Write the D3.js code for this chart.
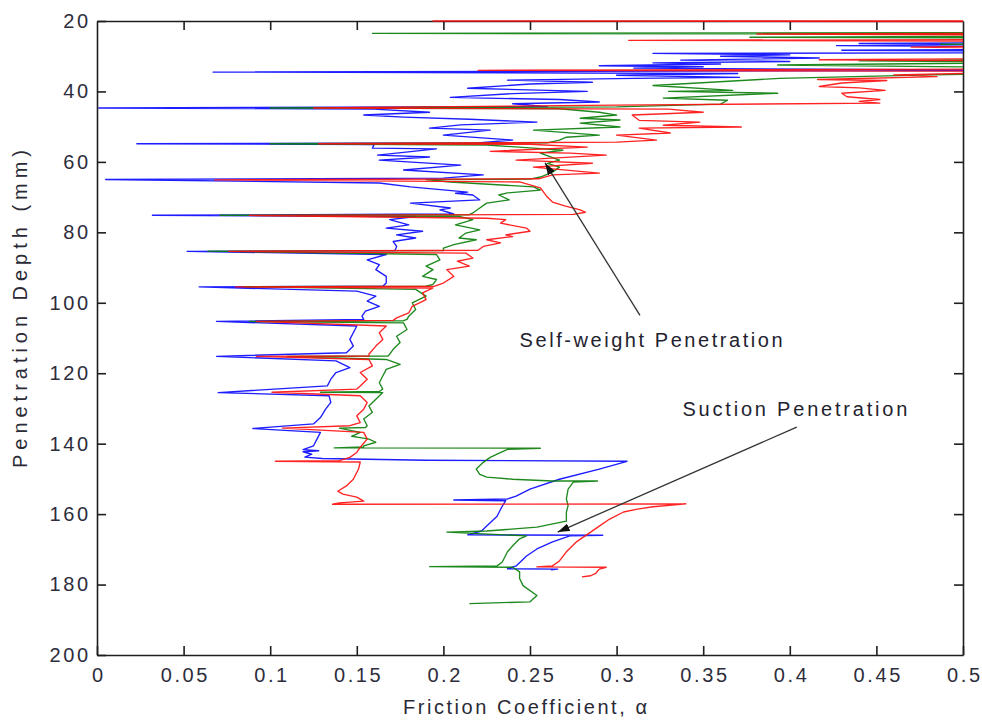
<!DOCTYPE html>
<html>
<head>
<meta charset="utf-8">
<script src="https://cdn.jsdelivr.net/npm/d3@7/dist/d3.min.js"></script>
<style>
  html, body { margin: 0; padding: 0; background: #fff; }
  svg { display: block; font-family: "Liberation Sans", Arial, sans-serif; }
</style>
</head>
<body>
<svg id="chart" width="982" height="721"></svg>
<script>
// ---- axis ticks ----
const xTicks = [0, 0.05, 0.1, 0.15, 0.2, 0.25, 0.3, 0.35, 0.4, 0.45, 0.5];
const xTickLabels = ["0", "0.05", "0.1", "0.15", "0.2", "0.25", "0.3", "0.35", "0.4", "0.45", "0.5"];
const yTicks = [20, 40, 60, 80, 100, 120, 140, 160, 180, 200];

// ---- measured traces: [friction coefficient, penetration depth (mm)] ----
const blueTrace = [
  [0.56, 26.0], [0.44, 26.4], [0.50, 26.7], [0.427, 27.0], [0.56, 27.4],
  [0.56, 28.0], [0.43, 28.3], [0.56, 28.6], [0.56, 29.0], [0.321, 29.2],
  [0.40, 29.6], [0.36, 30.0], [0.417, 30.5], [0.337, 31.1], [0.40, 31.5],
  [0.321, 31.9], [0.36, 32.2], [0.29, 32.7], [0.35, 33.0], [0.31, 33.4],
  [0.56, 34.0], [0.067, 34.5], [0.37, 34.9],
  [0.30, 35.4], [0.371, 36.0], [0.31, 36.3], [0.237, 36.8], [0.286, 37.4],
  [0.25, 37.9], [0.214, 39.1], [0.283, 40.0], [0.24, 40.6], [0.204, 41.7],
  [0.267, 42.3], [0.29, 43.0], [0.24, 43.5], [0.26, 44.3], [0.001, 44.7],
  [0.16, 45.0], [0.192, 45.9], [0.154, 46.7], [0.177, 47.3], [0.215, 47.9],
  [0.254, 48.7], [0.21, 49.5], [0.192, 50.4], [0.227, 51.0], [0.2, 52.4],
  [0.24, 53.8], [0.22, 54.6], [0.023, 54.85],
  [0.16, 55.1], [0.159, 56.1], [0.196, 56.3], [0.162, 58.1], [0.192, 58.6],
  [0.163, 59.5], [0.21, 60.9], [0.177, 62.3], [0.223, 63.7], [0.2, 64.6],
  [0.005, 65.0],
  [0.163, 66.0], [0.181, 67.1], [0.214, 68.6], [0.207, 68.9], [0.217, 69.4],
  [0.221, 70.8], [0.181, 71.7], [0.204, 73.1], [0.198, 73.6], [0.206, 74.8],
  [0.032, 75.15],
  [0.184, 75.5], [0.169, 76.4], [0.18, 77.9], [0.167, 78.8], [0.188, 79.7],
  [0.173, 80.7], [0.184, 81.6], [0.171, 82.6], [0.173, 84.0], [0.172, 85.2],
  [0.052, 85.4],
  [0.167, 86.3], [0.156, 87.8], [0.163, 89.2], [0.161, 90.6], [0.167, 92.5],
  [0.167, 94.4], [0.165, 95.3], [0.059, 95.5],
  [0.15, 96.7], [0.161, 98.1], [0.156, 99.5], [0.163, 101.0], [0.155, 102.4],
  [0.153, 103.8], [0.154, 104.7], [0.069, 105.3],
  [0.15, 106.6], [0.148, 108.5], [0.146, 110.4], [0.148, 112.3], [0.144, 114.2],
  [0.069, 115.2],
  [0.138, 116.5], [0.146, 118.4], [0.138, 119.8], [0.135, 121.7], [0.133, 123.6],
  [0.07, 125.5],
  [0.134, 126.4], [0.135, 128.3], [0.132, 130.2], [0.129, 132.6], [0.125, 134.4],
  [0.09, 135.7],
  [0.129, 136.8], [0.127, 138.7], [0.125, 140.6], [0.119, 141.7], [0.128, 142.0],
  [0.119, 142.3], [0.124, 143.0], [0.12, 143.8], [0.13, 144.2], [0.19, 144.7],
  [0.306, 145.0],
  [0.29, 147.2], [0.267, 150.1], [0.25, 152.9], [0.242, 154.9], [0.237, 155.7],
  [0.206, 156.0], [0.236, 156.2], [0.234, 157.7], [0.231, 160.6], [0.225, 163.4],
  [0.222, 164.8], [0.214, 165.9], [0.292, 166.0], [0.273, 166.2], [0.263, 167.9],
  [0.254, 169.9], [0.248, 171.9], [0.242, 174.7], [0.237, 175.5], [0.266, 175.6],
  [0.262, 175.8]
];

const greenTrace = [
  [0.56, 23.3], [0.159, 23.5], [0.56, 23.8], [0.56, 24.3], [0.377, 24.6],
  [0.56, 24.9], [0.56, 26.3], [0.487, 26.6], [0.56, 26.9], [0.56, 30.8],
  [0.44, 31.3], [0.56, 31.7], [0.393, 32.5], [0.47, 32.9], [0.56, 33.3],
  [0.56, 34.6], [0.481, 35.3], [0.394, 36.3], [0.321, 38.3], [0.367, 39.7],
  [0.33, 40.0], [0.393, 40.5], [0.327, 41.9], [0.364, 42.5], [0.36, 43.6],
  [0.30, 44.4], [0.10, 44.7],
  [0.267, 44.9], [0.29, 45.9], [0.30, 46.7], [0.279, 47.6], [0.302, 48.1],
  [0.279, 49.0], [0.302, 50.1], [0.252, 51.0], [0.29, 52.4], [0.271, 53.0],
  [0.267, 53.8], [0.26, 54.6], [0.10, 54.85],
  [0.225, 55.2], [0.252, 56.1], [0.269, 56.7], [0.256, 57.5], [0.267, 59.5],
  [0.26, 60.4], [0.267, 61.5], [0.263, 62.9], [0.256, 64.3], [0.25, 64.9],
  [0.19, 65.05],
  [0.204, 65.7], [0.252, 67.1], [0.256, 68.0], [0.237, 68.8], [0.232, 69.4],
  [0.238, 70.8], [0.225, 71.7], [0.221, 73.1], [0.217, 74.5], [0.215, 75.0],
  [0.071, 75.15],
  [0.209, 75.5], [0.217, 76.4], [0.207, 77.9], [0.221, 79.3], [0.213, 80.2],
  [0.209, 81.6], [0.219, 82.1], [0.206, 83.5], [0.2, 84.5], [0.2, 85.2],
  [0.064, 85.35],
  [0.196, 86.3], [0.198, 87.8], [0.19, 89.6], [0.194, 90.6], [0.188, 92.5],
  [0.196, 93.4], [0.194, 94.8], [0.19, 95.3], [0.085, 95.45],
  [0.184, 96.2], [0.19, 98.1], [0.182, 100.0], [0.184, 101.9], [0.18, 103.8],
  [0.179, 104.7], [0.177, 105.1], [0.088, 105.3],
  [0.177, 105.7], [0.179, 107.6], [0.173, 109.5], [0.175, 111.3], [0.171, 113.2],
  [0.169, 114.6], [0.168, 115.1], [0.11, 115.25],
  [0.167, 116.1], [0.175, 117.5], [0.167, 118.9], [0.165, 120.8], [0.163, 122.7],
  [0.165, 124.5], [0.163, 125.2], [0.129, 125.4],
  [0.165, 125.5], [0.161, 127.4], [0.157, 129.3], [0.159, 131.1], [0.154, 133.0],
  [0.156, 134.9], [0.155, 135.4], [0.14, 135.6],
  [0.152, 136.8], [0.147, 137.9], [0.152, 138.3], [0.157, 138.7], [0.161, 139.6],
  [0.154, 140.6], [0.154, 140.9], [0.137, 141.2], [0.256, 141.3],
  [0.237, 141.6], [0.231, 143.0], [0.227, 143.9], [0.223, 145.3], [0.219, 147.2],
  [0.221, 148.7], [0.225, 149.5], [0.24, 150.1], [0.263, 150.6], [0.289, 150.6],
  [0.275, 150.9], [0.272, 152.9], [0.271, 155.7], [0.272, 157.6], [0.271, 159.4],
  [0.271, 162.0], [0.254, 163.7], [0.225, 164.8], [0.202, 165.1], [0.248, 166.2],
  [0.244, 167.0], [0.24, 169.0], [0.237, 170.7], [0.234, 173.6], [0.231, 174.7],
  [0.192, 174.9], [0.24, 175.1], [0.244, 176.4], [0.244, 178.3], [0.246, 180.3],
  [0.254, 183.1], [0.25, 184.9], [0.215, 185.4]
];

const redTrace = [
  [0.56, 20.0], [0.194, 20.0], [0.56, 20.2], [0.56, 23.4], [0.381, 23.7],
  [0.56, 24.0], [0.56, 25.2], [0.307, 25.5], [0.56, 25.8], [0.56, 27.0],
  [0.47, 27.4], [0.56, 27.8], [0.56, 30.6], [0.417, 31.0], [0.56, 31.4],
  [0.56, 33.6], [0.22, 34.0], [0.56, 34.3],
  [0.50, 34.9], [0.46, 35.3], [0.485, 35.8], [0.416, 36.6], [0.456, 36.9],
  [0.43, 37.6], [0.417, 38.6], [0.44, 39.0], [0.455, 39.7], [0.43, 40.5],
  [0.433, 41.5], [0.452, 42.3], [0.44, 42.8], [0.452, 43.3], [0.30, 43.9],
  [0.125, 44.7],
  [0.33, 45.0], [0.35, 45.9], [0.309, 46.7], [0.313, 48.2], [0.348, 48.7],
  [0.327, 49.6], [0.372, 50.1], [0.313, 50.4], [0.331, 51.8], [0.30, 52.4],
  [0.323, 53.8], [0.30, 54.4], [0.128, 54.85],
  [0.25, 55.0], [0.283, 55.8], [0.227, 57.0], [0.273, 57.5], [0.294, 58.1],
  [0.242, 59.5], [0.286, 60.4], [0.252, 61.5], [0.29, 63.2], [0.263, 63.7],
  [0.255, 64.8], [0.068, 65.1],
  [0.244, 65.7], [0.256, 67.4], [0.26, 70.0], [0.263, 71.4], [0.27, 72.5],
  [0.279, 73.6], [0.282, 74.3], [0.275, 74.9], [0.088, 75.2],
  [0.225, 76.0], [0.236, 76.4], [0.233, 77.4], [0.248, 78.8], [0.25, 79.7],
  [0.236, 80.7], [0.24, 81.2], [0.225, 82.1], [0.233, 83.0], [0.223, 84.0],
  [0.22, 85.1], [0.076, 85.4],
  [0.213, 85.9], [0.217, 87.3], [0.208, 88.2], [0.215, 89.6], [0.202, 90.6],
  [0.206, 92.5], [0.2, 94.4], [0.195, 95.3], [0.08, 95.5],
  [0.194, 95.8], [0.188, 97.2], [0.19, 99.1], [0.182, 101.0], [0.18, 102.9],
  [0.173, 104.3], [0.171, 105.0], [0.092, 105.3],
  [0.167, 106.6], [0.163, 108.5], [0.165, 110.4], [0.161, 112.3], [0.157, 114.6],
  [0.157, 115.1], [0.092, 115.2],
  [0.157, 116.1], [0.159, 117.9], [0.152, 119.8], [0.156, 121.7], [0.152, 123.6],
  [0.15, 124.5], [0.101, 125.4],
  [0.152, 126.4], [0.156, 128.3], [0.154, 130.2], [0.15, 132.1], [0.152, 134.0],
  [0.146, 134.9], [0.107, 135.6],
  [0.154, 136.8], [0.156, 138.7], [0.152, 141.0], [0.15, 142.5], [0.146, 143.9],
  [0.14, 144.8], [0.103, 145.0], [0.152, 145.2],
  [0.151, 147.2], [0.148, 150.1], [0.144, 152.0], [0.139, 153.5], [0.142, 154.3],
  [0.15, 155.2], [0.154, 156.3], [0.14, 156.8], [0.136, 157.2], [0.34, 157.1],
  [0.321, 157.9], [0.312, 158.6], [0.304, 159.4], [0.296, 161.4], [0.29, 163.4],
  [0.285, 165.1], [0.277, 167.8], [0.271, 170.7], [0.267, 173.3], [0.263, 174.7],
  [0.254, 175.0], [0.294, 175.1], [0.29, 175.6], [0.288, 176.8], [0.285, 177.5],
  [0.28, 177.8]
];

const seriesList = [
  { name: "blue", color: "#0a0aff", values: blueTrace },
  { name: "green", color: "#0b7f0b", values: greenTrace },
  { name: "red", color: "#ff1010", values: redTrace }
];

// ---- annotations: [alpha, depth] of arrow tail and head, text anchor ----
const annotations = [
  { text: "Self-weight Penetration", textAt: [0.244, 112.6], width: 263,
    from: [0.3135, 103.6], to: [0.2587, 60.3] },
  { text: "Suction Penetration", textAt: [0.338, 132.1], width: 225,
    from: [0.404, 135.3], to: [0.266, 165.1] }
];

// ---- layout ----
const svg = d3.select("#chart");
const plotLeft = 97, plotRight = 963, plotTop = 21, plotBottom = 655;

const x = d3.scaleLinear().domain([0, 0.5]).range([plotLeft, plotRight]);
const y = d3.scaleLinear().domain([20, 200]).range([plotTop, plotBottom]);

const defs = svg.append("defs");
defs.append("clipPath").attr("id", "plotClip")
  .append("rect")
  .attr("x", plotLeft).attr("y", plotTop - 1.5)
  .attr("width", plotRight - plotLeft).attr("height", plotBottom - plotTop + 1.5);

// ---- axes (ticks point inward, on all four sides) ----
const axisColor = "#1e1e1e";
const labelColor = "#2d2d3c";
const tickFont = 20;
const tickSpacing = 2.6;
const fmtX = (d) => xTickLabels[xTicks.indexOf(d)];

const gBottom = svg.append("g").attr("transform", `translate(0,${plotBottom})`)
  .call(d3.axisBottom(x).tickValues(xTicks).tickFormat(fmtX)
    .tickSizeInner(-9).tickSizeOuter(0).tickPadding(13));
const gLeft = svg.append("g").attr("transform", `translate(${plotLeft},0)`)
  .call(d3.axisLeft(y).tickValues(yTicks).tickFormat(d3.format("d"))
    .tickSizeInner(-9).tickSizeOuter(0).tickPadding(9 - tickSpacing));
const gTop = svg.append("g").attr("transform", `translate(0,${plotTop})`)
  .call(d3.axisTop(x).tickValues(xTicks.slice(1, -1)).tickFormat("")
    .tickSizeInner(-9).tickSizeOuter(0));
const gRight = svg.append("g").attr("transform", `translate(${plotRight},0)`)
  .call(d3.axisRight(y).tickValues(yTicks.slice(1, -1)).tickFormat("")
    .tickSizeInner(-9).tickSizeOuter(0));

[gBottom, gLeft, gTop, gRight].forEach(g => {
  g.select(".domain").attr("stroke", axisColor).attr("stroke-width", 1.6);
  g.selectAll(".tick line").attr("stroke", axisColor).attr("stroke-width", 1.6);
  g.selectAll(".tick text")
    .attr("fill", labelColor)
    .style("font-size", tickFont + "px")
    .style("font-family", "'Liberation Sans', Arial, sans-serif")
    .style("letter-spacing", tickSpacing + "px");
});
gBottom.selectAll(".tick text").attr("dx", tickSpacing / 2);

// ---- traces, drawn over the frame ----
const line = d3.line().x(d => x(d[0])).y(d => y(d[1]));

const plot = svg.append("g").attr("clip-path", "url(#plotClip)");
plot.selectAll("path.trace")
  .data(seriesList)
  .join("path")
  .attr("class", "trace")
  .attr("fill", "none")
  .attr("stroke", d => d.color)
  .attr("stroke-width", 1.35)
  .attr("stroke-linejoin", "round")
  .attr("stroke-opacity", 0.92)
  .attr("d", d => line(d.values));

// ---- axis titles ----
svg.append("text")
  .attr("x", 403).attr("y", 714)
  .attr("textLength", 244).attr("lengthAdjust", "spacing")
  .attr("fill", "#2a2a36")
  .style("font-size", "20px")
  .text("Friction Coefficient, α");

svg.append("text")
  .attr("transform", "translate(27,468) rotate(-90)")
  .attr("textLength", 318).attr("lengthAdjust", "spacing")
  .attr("fill", "#2a2a36")
  .style("font-size", "20px")
  .text("Penetration Depth (mm)");

// ---- annotation arrows and labels ----
defs.append("marker")
  .attr("id", "arrowHead")
  .attr("viewBox", "0 0 12 8")
  .attr("refX", 12).attr("refY", 4)
  .attr("markerWidth", 12).attr("markerHeight", 8)
  .attr("markerUnits", "userSpaceOnUse")
  .attr("orient", "auto")
  .append("path").attr("d", "M0,0 L12,4 L0,8 Z").attr("fill", "#111");

const ann = svg.append("g");
ann.selectAll("line")
  .data(annotations)
  .join("line")
  .attr("x1", d => x(d.from[0])).attr("y1", d => y(d.from[1]))
  .attr("x2", d => x(d.to[0])).attr("y2", d => y(d.to[1]))
  .attr("stroke", "#333").attr("stroke-width", 1.3)
  .attr("marker-end", "url(#arrowHead)");
ann.selectAll("text")
  .data(annotations)
  .join("text")
  .attr("x", d => x(d.textAt[0])).attr("y", d => y(d.textAt[1]))
  .attr("textLength", d => d.width).attr("lengthAdjust", "spacing")
  .attr("fill", "#22222e")
  .style("font-size", "20px")
  .text(d => d.text);
</script>
</body>
</html>
